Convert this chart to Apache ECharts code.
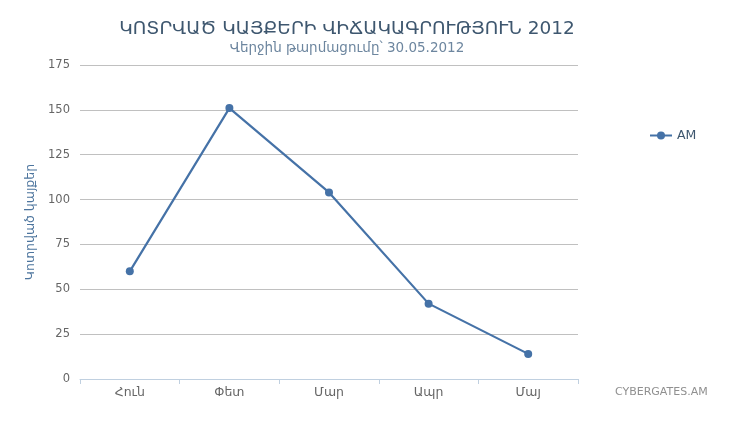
<!DOCTYPE html>
<html><head><meta charset="utf-8">
<script src="https://cdn.jsdelivr.net/npm/echarts@6/dist/echarts.min.js"></script>
<style>html,body{margin:0;padding:0;background:#fff}#c{width:735px;height:447px}</style>
</head><body><div id="c"></div>
<script>
const categories = ['Հուն', 'Փետ', 'Մար', 'Ապր', 'Մայ'];
const seriesName = 'AM';
const values = [60, 151, 104, 42, 14];
const titleText = 'ԿՈՏՐՎԱԾ ԿԱՅՔԵՐԻ ՎԻՃԱԿԱԳՐՈՒԹՅՈՒՆ 2012';
const subtitleText = 'Վերջին թարմացումը՝ 30.05.2012';
const yAxisName = 'Կոտրված կայքեր';
const creditText = 'CYBERGATES.AM';

const font = '"DejaVu Sans", "Liberation Sans", sans-serif';
const chart = echarts.init(document.getElementById('c'));
chart.setOption({
  backgroundColor: '#fff',
  textStyle: { fontFamily: font },
  title: {
    text: titleText, subtext: subtitleText, top: 15, itemGap: 2,
    left: 342, textAlign: 'center',
    textStyle: { fontFamily: font, fontSize: 18.5, fontWeight: 'normal', color: '#3E576F' },
    subtextStyle: { fontFamily: font, fontSize: 13.5, color: '#6D869F' }
  },
  legend: {
    data: [seriesName], left: 644, top: 124, itemWidth: 22, itemHeight: 10,
    textStyle: { fontFamily: font, fontSize: 12.5, color: '#3E576F' }
  },
  graphic: [{
    type: 'text', left: 615, top: 387,
    style: { text: creditText, fontFamily: font, fontSize: 11, fill: '#909090' }
  }],
  grid: { left: 80, right: 157, top: 65, bottom: 68 },
  xAxis: {
    type: 'category', data: categories, boundaryGap: true,
    axisLine: { lineStyle: { color: '#C0D0E0' } },
    axisTick: { show: true, length: 5, lineStyle: { color: '#C0D0E0' } },
    axisLabel: { color: '#666', fontSize: 12.5, margin: 7, fontFamily: font }
  },
  yAxis: {
    type: 'value', min: 0, max: 175, interval: 25,
    name: yAxisName, nameLocation: 'middle', nameGap: 42, nameRotate: 90,
    nameTextStyle: { color: '#4D759E', fontSize: 12.5, fontFamily: font },
    axisLine: { show: false }, axisTick: { show: false },
    splitLine: { lineStyle: { color: '#C0C0C0', width: 1 } },
    axisLabel: { color: '#666', fontSize: 11.5, margin: 10, fontFamily: font }
  },
  series: [{
    name: seriesName, type: 'line', data: values,
    symbol: 'circle', symbolSize: 8,
    lineStyle: { color: '#4572A7', width: 2.2 },
    itemStyle: { color: '#4572A7' }
  }]
});
</script></body></html>
